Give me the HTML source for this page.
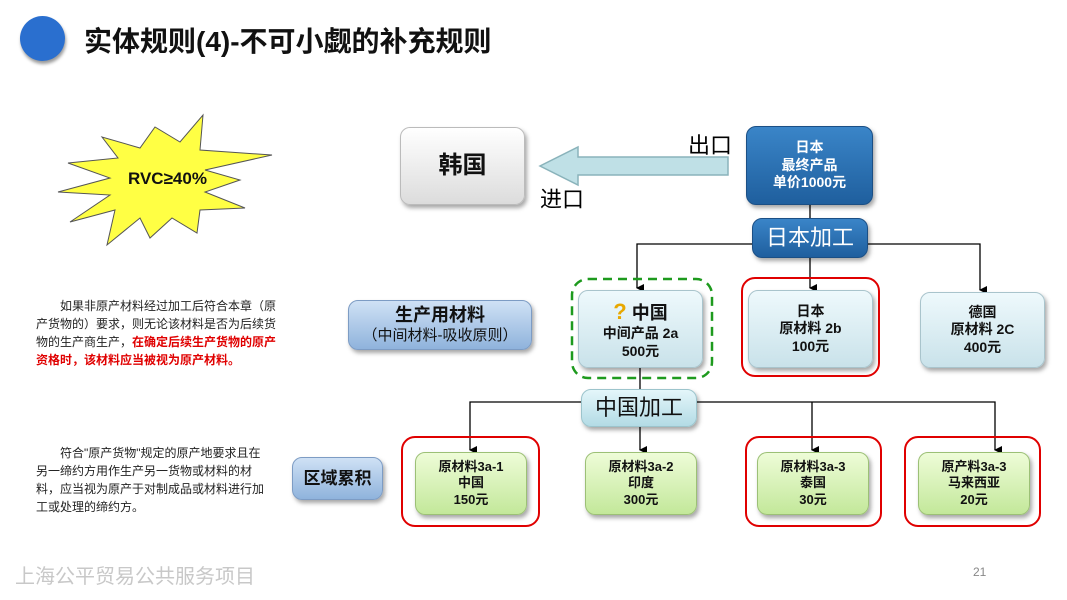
<!DOCTYPE html>
<html><head><meta charset="utf-8"><style>
body{margin:0;width:1067px;height:600px;background:#fff;position:relative;overflow:hidden;font-family:"Liberation Sans","Noto Sans CJK SC",sans-serif}
.a{position:absolute;box-sizing:border-box}
.box{position:absolute;box-sizing:border-box;border-radius:10px;display:flex;flex-direction:column;align-items:center;justify-content:center;text-align:center;font-weight:bold;line-height:1.25;box-shadow:2px 3px 4px rgba(0,0,0,.35)}
.lb{background:linear-gradient(#eef9fc,#c9e2ea);border:1px solid #a9c4cc;color:#111;font-size:14px}
.gr{background:linear-gradient(#eefcd8,#c3e89a);border:1px solid #9cc076;color:#111;font-size:13px}
.rd{position:absolute;border:2.5px solid #e00000;border-radius:14px;box-sizing:border-box}
.p{position:absolute;font-size:12px;line-height:18px;color:#222}
</style></head><body>
<div class="a" style="left:20px;top:16px;width:45px;height:45px;border-radius:50%;background:#2a6fcf;box-shadow:1px 3px 3px rgba(0,0,0,.4)"></div>
<div class="a" style="left:84px;top:20px;font-size:28px;font-weight:bold;color:#111;white-space:nowrap">实体规则(4)-不可小觑的补充规则</div>

<svg class="a" style="left:0;top:0" width="1067" height="600">
<defs><marker id="m" markerWidth="8" markerHeight="8" refX="4" refY="7" orient="auto" markerUnits="userSpaceOnUse"><path d="M0,0 L8,0 L4,8z" fill="#000"/></marker></defs>
<polygon points="203,115 200,150 272,155 205,170 240,180 205,192 245,208 200,210 197,233 172,218 150,238 140,218 107,245 115,210 70,222 110,195 58,192 110,178 68,163 118,158 102,137 140,148 155,127 180,142" fill="#ffff44" stroke="#555" stroke-width="1"/>
<polygon points="728,157 578,157 578,147 540,166 578,185 578,175 728,175" fill="#bfe0e6" stroke="#8ab3bb" stroke-width="1.5"/>
<g stroke="#000" stroke-width="1.3" fill="none">
<line x1="810" y1="205" x2="810" y2="219"/>
<path d="M752,244 H637 V288" marker-end="url(#m)"/>
<line x1="810" y1="258" x2="810" y2="288" marker-end="url(#m)"/>
<path d="M868,244 H980 V290" marker-end="url(#m)"/>
<line x1="640" y1="368" x2="640" y2="390"/>
<path d="M581,402 H470 V450" marker-end="url(#m)"/>
<line x1="640" y1="427" x2="640" y2="450" marker-end="url(#m)"/>
<path d="M697,402 H995 V450" marker-end="url(#m)"/>
<line x1="812" y1="402" x2="812" y2="450" marker-end="url(#m)"/>
</g>
<rect x="572" y="279" width="140" height="99" rx="16" fill="none" stroke="#1e9a1e" stroke-width="2.5" stroke-dasharray="9,6"/>
</svg>
<div class="a" style="left:128px;top:169px;font-size:17px;font-weight:bold;color:#111">RVC≥40%</div>

<div class="box" style="left:400px;top:127px;width:125px;height:78px;background:linear-gradient(#fff,#dcdcdc);border:1px solid #bbb;font-size:24px;color:#111">韩国</div>
<div class="a" style="left:688px;top:128px;font-size:22px">出口</div>
<div class="a" style="left:540px;top:182px;font-size:22px">进口</div>
<div class="box" style="left:746px;top:126px;width:127px;height:79px;background:linear-gradient(#3a85c8,#1f5f9e);border:1px solid #1b4f85;color:#fff;font-size:14px">日本<br>最终产品<br>单价1000元</div>
<div class="box" style="left:752px;top:218px;width:116px;height:40px;background:linear-gradient(#3a85c8,#1f5f9e);border:1px solid #1b4f85;color:#fff;font-size:22px;font-weight:normal">日本加工</div>

<div class="rd" style="left:741px;top:277px;width:139px;height:100px"></div>
<div class="box lb" style="left:578px;top:290px;width:125px;height:78px"><div style="font-size:18px"><span style="color:#e8a800;font-size:22px">?</span> 中国</div>中间产品 2a<br>500元</div>
<div class="box lb" style="left:748px;top:290px;width:125px;height:78px">日本<br>原材料 2b<br>100元</div>
<div class="box lb" style="left:920px;top:292px;width:125px;height:76px">德国<br>原材料 2C<br>400元</div>

<div class="box" style="left:348px;top:300px;width:184px;height:50px;background:linear-gradient(#cfe1f5,#8fb3dc);border:1px solid #7d9cc4;font-size:18px;color:#111;font-weight:bold">生产用材料<span style="font-weight:normal;font-size:15px">（中间材料-吸收原则）</span></div>
<div class="p" style="left:36px;top:297px;width:250px">　　如果非原产材料经过加工后符合本章（原产货物的）要求，则无论该材料是否为后续货物的生产商生产，<b style="color:#e00000">在确定后续生产货物的原产资格时，该材料应当被视为原产材料。</b></div>

<div class="box" style="left:581px;top:389px;width:116px;height:38px;background:linear-gradient(#e4f6fa,#b3dbe5);border:1px solid #9cc4cc;font-size:22px;font-weight:normal;color:#111">中国加工</div>

<div class="rd" style="left:401px;top:436px;width:139px;height:91px"></div>
<div class="rd" style="left:745px;top:436px;width:137px;height:91px"></div>
<div class="rd" style="left:904px;top:436px;width:137px;height:91px"></div>
<div class="box gr" style="left:415px;top:452px;width:112px;height:63px">原材料3a-1<br>中国<br>150元</div>
<div class="box gr" style="left:585px;top:452px;width:112px;height:63px">原材料3a-2<br>印度<br>300元</div>
<div class="box gr" style="left:757px;top:452px;width:112px;height:63px">原材料3a-3<br>泰国<br>30元</div>
<div class="box gr" style="left:918px;top:452px;width:112px;height:63px">原产料3a-3<br>马来西亚<br>20元</div>

<div class="box" style="left:292px;top:457px;width:91px;height:43px;background:linear-gradient(#cfe1f5,#8fb3dc);border:1px solid #7d9cc4;font-size:17px;color:#111">区域累积</div>
<div class="p" style="left:36px;top:444px;width:232px">　　符合"原产货物"规定的原产地要求且在另一缔约方用作生产另一货物或材料的材料，应当视为原产于对制成品或材料进行加工或处理的缔约方。</div>

<div class="a" style="left:15px;top:560px;font-size:20px;color:#c8c8c8">上海公平贸易公共服务项目</div>
<div class="a" style="left:973px;top:565px;font-size:12px;color:#888">21</div>
</body></html>
